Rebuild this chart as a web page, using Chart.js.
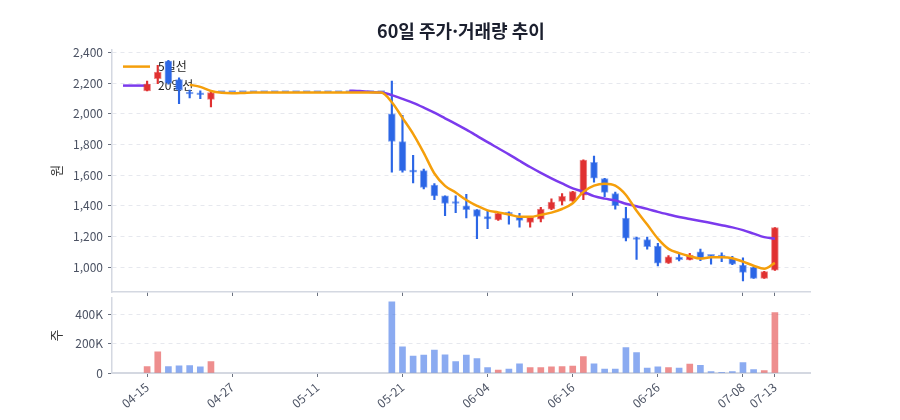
<!DOCTYPE html>
<html lang="ko">
<head>
<meta charset="utf-8">
<title>60일 주가·거래량 추이</title>
<script src="https://cdn.jsdelivr.net/npm/chart.js@4.4.1/dist/chart.umd.min.js"></script>
<style>
  html, body { margin: 0; padding: 0; background: #fff; }
  #wrap { position: relative; width: 900px; height: 420px; }
  #priceChart { position: absolute; left: 0; top: 0; }
  #volumeChart { position: absolute; left: 0; top: 286px; }
</style>
</head>
<body>
<div id="wrap">
  <canvas id="priceChart" width="900" height="308"></canvas>
  <canvas id="volumeChart" width="900" height="134"></canvas>
</div>
<script>
const dates = [
  '04-15', '04-16', '04-19', '04-20', '04-21', '04-22', '04-23', '04-26', '04-27', '04-28',
  '04-29', '05-03', '05-04', '05-06', '05-07', '05-10', '05-11', '05-12', '05-13', '05-14',
  '05-17', '05-18', '05-19', '05-20', '05-21', '05-24', '05-25', '05-26', '05-27', '05-28',
  '06-01', '06-03', '06-04', '06-07', '06-08', '06-09', '06-10', '06-11', '06-14', '06-15',
  '06-16', '06-17', '06-18', '06-21', '06-22', '06-23', '06-24', '06-25', '06-26', '06-29',
  '06-30', '07-01', '07-02', '07-05', '07-06', '07-07', '07-08', '07-09', '07-12', '07-13'
];
const tickLabels = ['04-15', '04-27', '05-11', '05-21', '06-04', '06-16', '06-26', '07-08', '07-13'];
const priceTicks = [1000, 1200, 1400, 1600, 1800, 2000, 2200, 2400];
const volumeTicks = [0, 200000, 400000];

const opens = [
  2150, 2230, 2345, 2225, 2135, 2130, 2095, 2140, 2140, 2140,
  2140, 2140, 2140, 2140, 2140, 2140, 2140, 2140, 2140, 2140,
  2140, 2140, 2140, 2000, 1820, 1625, 1630, 1535, 1465, 1420,
  1400, 1375, 1330, 1308, 1355, 1325, 1292, 1312, 1378, 1428,
  1430, 1470, 1683, 1578, 1480, 1320, 1192, 1180, 1137, 1025,
  1065, 1047, 1100, 1073, 1068, 1057, 1013, 998, 926, 980
];
const highs = [
  2215, 2317, 2350, 2235, 2155, 2150, 2145, 2140, 2140, 2140,
  2140, 2140, 2140, 2140, 2140, 2140, 2140, 2140, 2140, 2140,
  2140, 2140, 2140, 2215, 1990, 1730, 1640, 1545, 1465, 1465,
  1475, 1375, 1370, 1355, 1360, 1350, 1325, 1390, 1445, 1480,
  1495, 1700, 1725, 1580, 1490, 1390, 1195, 1195, 1155, 1075,
  1085, 1090, 1118, 1075, 1093, 1070, 1060, 1000, 972, 1258
];
const lows = [
  2150, 2198, 2195, 2067, 2105, 2100, 2045, 2140, 2140, 2140,
  2140, 2140, 2140, 2140, 2140, 2140, 2140, 2140, 2140, 2140,
  2140, 2140, 2140, 1620, 1620, 1550, 1510, 1440, 1335, 1355,
  1320, 1185, 1250, 1305, 1280, 1260, 1260, 1295, 1375, 1405,
  1428, 1440, 1555, 1460, 1378, 1170, 1050, 1117, 1008, 1024,
  1040, 1046, 1042, 1018, 1035, 1015, 910, 925, 925, 978
];
const closes = [
  2195, 2273, 2200, 2155, 2130, 2125, 2140, 2140, 2140, 2140,
  2140, 2140, 2140, 2140, 2140, 2140, 2140, 2140, 2140, 2140,
  2140, 2140, 2140, 1820, 1630, 1620, 1520, 1465, 1415, 1415,
  1375, 1330, 1315, 1350, 1345, 1305, 1325, 1378, 1425, 1462,
  1492, 1698, 1580, 1488, 1400, 1188, 1180, 1133, 1025, 1067,
  1048, 1078, 1058, 1070, 1065, 1018, 965, 926, 970, 1257
];
const volumes = [
  43000, 144000, 43000, 48000, 50000, 41000, 77000, 0, 0, 0,
  0, 0, 0, 0, 0, 0, 0, 0, 0, 0,
  0, 0, 0, 483000, 178000, 115000, 122000, 156000, 124000, 77000,
  122000, 97000, 36000, 20000, 27000, 63000, 36000, 36000, 41000, 43000,
  47000, 111000, 63000, 27000, 27000, 172000, 138000, 34000, 41000, 36000,
  34000, 61000, 52000, 9000, 3000, 9000, 70000, 23000, 16000, 409000
];

const FONT = "'Noto Sans CJK KR', 'Noto Sans', sans-serif";
Chart.defaults.font.family = FONT;

const UP = '#e03131';
const DOWN = '#2b66e6';
const UP_EDGE = 'rgba(224,49,49,0.55)';
const DOWN_EDGE = 'rgba(43,102,230,0.55)';
const UP_VOL = 'rgba(224,49,49,0.55)';
const DOWN_VOL = 'rgba(43,102,230,0.55)';
const TICK_COLOR = '#4b5263';

const isUp = closes.map((c, i) => c > opens[i]);
const tickIdx = tickLabels.map(l => dates.indexOf(l));

function movingAvg(period) {
  return closes.map((c, i) => {
    if (i < period - 1) return null;
    let sum = 0;
    for (let k = i - period + 1; k <= i; k++) sum += closes[k];
    return sum / period;
  });
}
const ma5 = movingAvg(5);
const ma20 = movingAvg(20);

const xScaleBase = {
  type: 'linear',
  offset: false,
  min: -3.3,
  max: 62.3,
  afterBuildTicks: axis => { axis.ticks = tickIdx.map(v => ({ value: v })) }
};

// 차트 영역 안 왼쪽 위 범례 (캔들보다 먼저 그림)
const lineLegend = {
  id: 'lineLegend',
  beforeDatasetsDraw(chart) {
    const { ctx, chartArea } = chart;
    ctx.save();
    ctx.font = "12px " + FONT;
    ctx.textBaseline = 'middle';
    ctx.textAlign = 'left';
    chart.data.datasets.forEach((ds, i) => {
      if (ds.type !== 'line') return;
      const y = chartArea.top + 17 + i * 19;
      const x = chartArea.left + 11;
      ctx.strokeStyle = ds.borderColor;
      ctx.lineWidth = ds.borderWidth;
      ctx.beginPath();
      ctx.moveTo(x, y);
      ctx.lineTo(x + 27, y);
      ctx.stroke();
      ctx.fillStyle = '#222';
      ctx.fillText(ds.label, x + 35, y);
    });
    ctx.restore();
  }
};

// 위: 캔들 + 이동평균
const priceChart = new Chart(document.getElementById('priceChart'), {
  data: {
    datasets: [
      {
        type: 'line', label: '5일선',
        data: ma5.map((v, i) => ({ x: i, y: v })),
        borderColor: '#f59f0b', backgroundColor: '#f59f0b',
        borderWidth: 2.5, pointRadius: 0, cubicInterpolationMode: 'monotone', order: 0
      },
      {
        type: 'line', label: '20일선',
        data: ma20.map((v, i) => ({ x: i, y: v })),
        borderColor: '#7b3aed', backgroundColor: '#7b3aed',
        borderWidth: 2.5, pointRadius: 0, cubicInterpolationMode: 'monotone', order: 0
      },
      {
        type: 'bar', label: 'body',
        data: opens.map((o, i) => ({ x: i, y: [o, closes[i]] })),
        backgroundColor: isUp.map(u => u ? UP : DOWN),
        borderColor: isUp.map(u => u ? UP_EDGE : DOWN_EDGE),
        borderWidth: 1, borderSkipped: false,
        barThickness: 7, minBarLength: 2, grouped: false, order: 1
      },
      {
        type: 'bar', label: 'wick',
        data: lows.map((l, i) => ({ x: i, y: [l, highs[i]] })),
        backgroundColor: isUp.map(u => u ? UP : DOWN),
        barThickness: 1.5, grouped: false, order: 2
      }
    ]
  },
  options: {
    responsive: false,
    animation: false,
    layout: { padding: { left: 40, right: 90, top: 0, bottom: 12 } },
    plugins: {
      title: {
        display: true, fullSize: false,
        text: '60일 주가·거래량 추이',
        color: '#1b1f2e',
        font: { size: 18, weight: 'bold' },
        padding: { top: 20, bottom: 8 }
      },
      legend: { display: false },
      tooltip: { enabled: false }
    },
    scales: {
      x: Object.assign({}, xScaleBase, {
        ticks: { display: false },
        grid: { offset: false, drawOnChartArea: false, color: '#6b7280', tickLength: 4 },
        border: { color: '#d4d8e1', width: 1.5 },
        afterFit: s => { s.height = 4 }
      }),
      y: {
        min: 837, max: 2420,
        afterBuildTicks: axis => { axis.ticks = priceTicks.map(v => ({ value: v })) },
        ticks: { autoSkip: false, padding: 5, color: TICK_COLOR, font: { size: 12 } },
        grid: { color: '#e6e8ee', tickColor: '#6b7280', tickLength: 4 },
        border: { dash: [4, 4], color: '#d4d8e1', width: 1.5 },
        title: { display: true, text: '원', color: '#333', font: { size: 13 }, padding: { top: 8, bottom: 0 } },
        afterFit: s => { s.width = 72 }
      }
    }
  },
  plugins: [lineLegend]
});

// 아래: 거래량 (거래 없는 날은 막대 없음)
const volumeChart = new Chart(document.getElementById('volumeChart'), {
  type: 'bar',
  data: {
    datasets: [{
      label: '거래량',
      data: volumes.map((v, i) => ({ x: i, y: v > 0 ? v : null })),
      backgroundColor: isUp.map(u => u ? UP_VOL : DOWN_VOL),
      barThickness: 6
    }]
  },
  options: {
    responsive: false,
    animation: false,
    layout: { padding: { left: 40, right: 90, top: 12, bottom: 0 } },
    plugins: { legend: { display: false }, tooltip: { enabled: false } },
    scales: {
      x: Object.assign({}, xScaleBase, {
        ticks: {
          callback: v => dates[v],
          autoSkip: false, maxRotation: 40, minRotation: 40,
          color: TICK_COLOR, font: { size: 12 }
        },
        grid: { offset: false, drawOnChartArea: false, color: '#6b7280', tickLength: 4 },
        border: { color: '#d4d8e1', width: 2 },
        afterFit: s => { s.height = 47 }
      }),
      y: {
        min: 0, max: Math.max(...volumes) * 1.05,
        afterBuildTicks: axis => { axis.ticks = volumeTicks.map(v => ({ value: v })) },
        ticks: {
          autoSkip: false, padding: 5, color: TICK_COLOR, font: { size: 12 },
          callback: v => v === 0 ? '0' : (v / 1000) + 'K'
        },
        grid: { color: '#e6e8ee', tickColor: '#6b7280', tickLength: 4 },
        border: { dash: [4, 4], color: '#d4d8e1', width: 1.5 },
        title: { display: true, text: '주', color: '#333', font: { size: 13 }, padding: { top: 8, bottom: 0 } },
        afterFit: s => { s.width = 72 }
      }
    }
  }
});
</script>
</body>
</html>
